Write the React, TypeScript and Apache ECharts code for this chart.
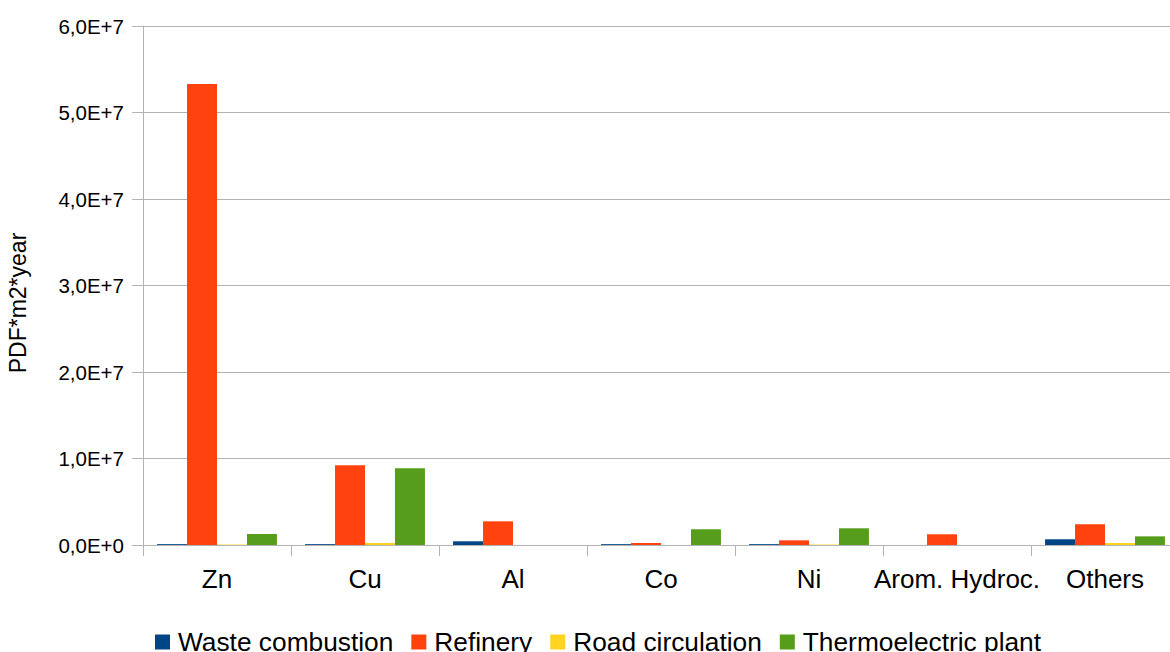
import React, { useEffect, useRef } from "react";
import * as echarts from "echarts";

const categories = ["Zn", "Cu", "Al", "Co", "Ni", "Arom. Hydroc.", "Others"];
const wasteCombustion = [1e5, 1e5, 4.3e5, 1e5, 1e5, 0, 6.6e5];
const refinery = [5.33e7, 9.22e6, 2.74e6, 2.3e5, 5.4e5, 1.24e6, 2.4e6];
const roadCirculation = [5e4, 2.3e5, 0, 0, 5e4, 0, 2.3e5];
const thermoelectricPlant = [1.27e6, 8.87e6, 0, 1.82e6, 1.93e6, 0, 1.0e6];

const seriesNames = ["Waste combustion", "Refinery", "Road circulation", "Thermoelectric plant"];
const seriesColors = ["#004586", "#ff420e", "#ffd320", "#579d1c"];
const seriesData = [wasteCombustion, refinery, roadCirculation, thermoelectricPlant];

const yTitle = "PDF*m2*year";
const FONT = "'Liberation Sans', Arial, sans-serif";

function sci(v: number): string {
  if (v === 0) return "0,0E+0";
  const e = Math.floor(Math.log10(Math.abs(v)) + 1e-9);
  const m = v / Math.pow(10, e);
  return m.toFixed(1).replace(".", ",") + "E+" + e;
}

export default function App() {
  const ref = useRef<HTMLDivElement>(null);
  useEffect(() => {
    if (!ref.current) return;
    const chart = echarts.init(ref.current, undefined, { renderer: "svg" });
    chart.setOption({
      animation: false,
      backgroundColor: "#ffffff",
      textStyle: { fontFamily: FONT },
      grid: { left: 143, top: 26, width: 1036, height: 519 },
      legend: {
        data: seriesNames,
        left: 155,
        top: 629,
        padding: 0,
        icon: "rect",
        itemWidth: 15,
        itemHeight: 15,
        itemGap: 18,
        textStyle: { fontFamily: FONT, fontSize: 26.3, lineHeight: 22, color: "#000", padding: [0, 0, 0, 3] },
      },
      graphic: [
        {
          type: "text",
          x: 18,
          y: 303,
          rotation: Math.PI / 2,
          style: {
            text: yTitle,
            font: `23px ${FONT}`,
            fill: "#000",
            align: "center",
            verticalAlign: "middle",
          },
        },
      ],
      xAxis: {
        type: "category",
        data: categories,
        boundaryGap: true,
        axisLine: { lineStyle: { color: "#b3b3b3", width: 1 } },
        axisTick: { show: true, length: 11, lineStyle: { color: "#b3b3b3" } },
        axisLabel: { fontFamily: FONT, fontSize: 26, color: "#000", margin: 21, interval: 0 },
      },
      yAxis: {
        type: "value",
        min: 0,
        max: 6e7,
        interval: 1e7,
        axisLine: { show: true, lineStyle: { color: "#b3b3b3", width: 1 } },
        axisTick: { show: true, length: 11, lineStyle: { color: "#b3b3b3" } },
        splitLine: { show: true, lineStyle: { color: "#b3b3b3", width: 1 } },
        axisLabel: { fontFamily: FONT, fontSize: 20.5, color: "#000", margin: 19, formatter: sci },
      },
      series: seriesNames.map((name, i) => ({
        name,
        type: "bar",
        data: seriesData[i],
        barGap: "0%",
        barCategoryGap: "19%",
        itemStyle: { color: seriesColors[i] },
      })),
    });
    return () => chart.dispose();
  }, []);
  return (
    <div
      style={{ position: "absolute", left: 0, top: 0, width: 1170, height: 652, overflow: "hidden" }}
    >
      <div ref={ref} style={{ position: "absolute", left: 0, top: 0, width: 1180, height: 652 }} />
    </div>
  );
}
